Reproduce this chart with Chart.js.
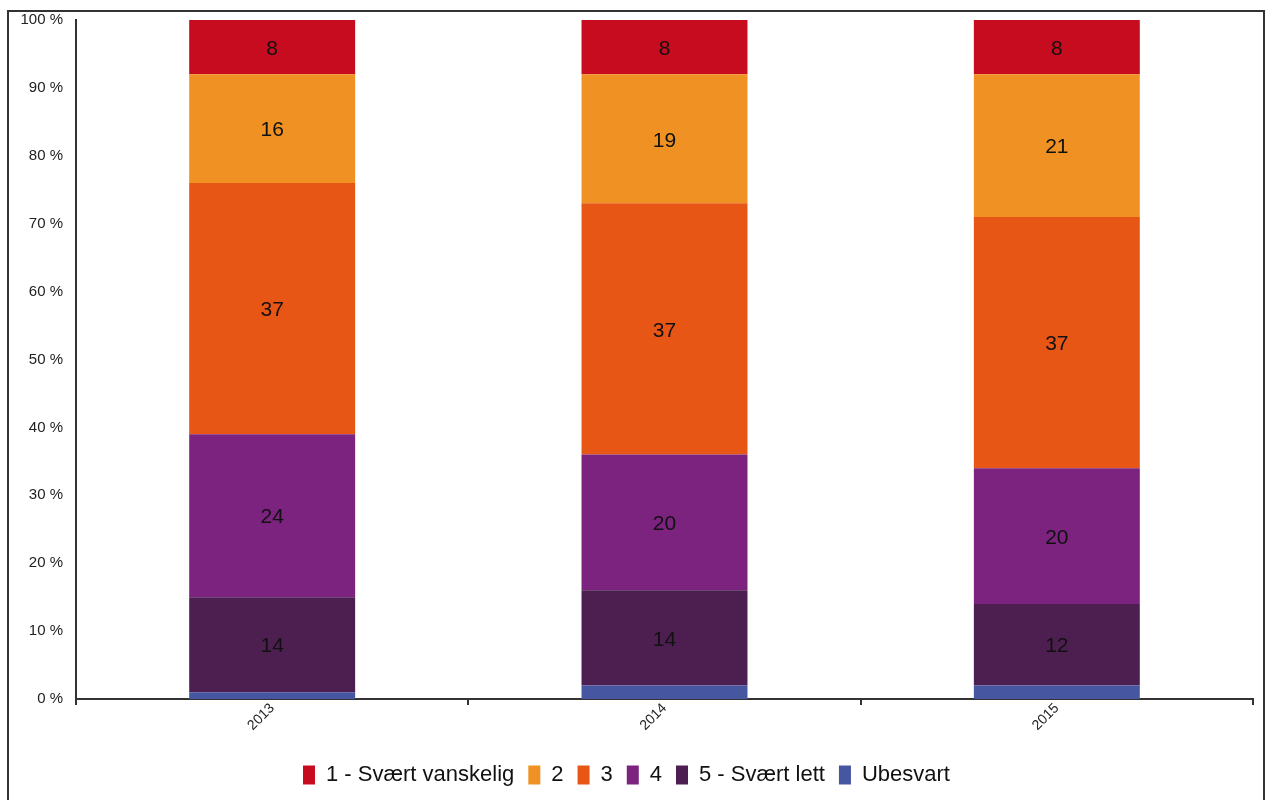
<!DOCTYPE html>
<html>
<head>
<meta charset="utf-8">
<script src="https://cdn.jsdelivr.net/npm/chart.js@4/dist/chart.umd.min.js"></script>
<style>
  html, body { margin: 0; padding: 0; background: #fff; }
  #wrap { position: relative; width: 1266px; height: 800px; overflow: hidden; }
  #frame { position: absolute; left: 7px; top: 10px; width: 1254px; height: 900px; border: 2px solid #333; }
  canvas { position: absolute; left: 0; top: 0; }
</style>
</head>
<body>
<div id="wrap">
  <div id="frame"></div>
  <canvas id="chart" width="1266" height="800"></canvas>
</div>
<script>
const years = ['2013', '2014', '2015'];
const seriesNames = ['Ubesvart', '5 - Svært lett', '4', '3', '2', '1 - Svært vanskelig'];
const ubesvart = [1, 2, 2];
const lett = [14, 14, 12];
const fire = [24, 20, 20];
const tre = [37, 37, 37];
const to = [16, 19, 21];
const vanskelig = [8, 8, 8];
const yTicks = [0, 10, 20, 30, 40, 50, 60, 70, 80, 90, 100];

const colors = ['#4656A0', '#4D1F50', '#7B237F', '#E85615', '#F09223', '#C70C1F'];
const values = [ubesvart, lett, fire, tre, to, vanskelig];
const fontFamily = '"Liberation Sans", Arial, sans-serif';

// value labels in the middle of each segment (Ubesvart has none)
const segmentLabels = {
  id: 'segmentLabels',
  afterDatasetsDraw(chart) {
    const ctx = chart.ctx;
    ctx.save();
    ctx.font = '21px ' + fontFamily;
    ctx.fillStyle = '#111';
    ctx.textAlign = 'center';
    ctx.textBaseline = 'middle';
    chart.data.datasets.forEach((ds, i) => {
      if (i === 0) return;
      const meta = chart.getDatasetMeta(i);
      meta.data.forEach((bar, j) => {
        ctx.fillText(ds.data[j], bar.x, (bar.y + bar.base) / 2 + 2);
      });
    });
    ctx.restore();
  }
};

new Chart(document.getElementById('chart').getContext('2d'), {
  type: 'bar',
  data: {
    labels: years,
    datasets: seriesNames.map((name, i) => ({
      label: name,
      data: values[i],
      backgroundColor: colors[i],
      borderWidth: 0,
      categoryPercentage: 1,
      barPercentage: 0.423
    }))
  },
  options: {
    responsive: false,
    animation: false,
    layout: { padding: { top: 20, right: 13, bottom: 4, left: 0 } },
    scales: {
      x: {
        stacked: true,
        grid: { display: true, drawOnChartArea: false, drawTicks: true, tickLength: 6, color: '#333', lineWidth: 2, offset: true },
        border: { display: true, color: '#333', width: 2 },
        ticks: { color: '#222', minRotation: 45, maxRotation: 45, padding: -5, font: { size: 14, family: fontFamily } },
        afterFit: (scale) => { scale.height = 51; }
      },
      y: {
        stacked: true,
        min: 0,
        max: 100,
        afterBuildTicks: (scale) => { scale.ticks = yTicks.map(v => ({ value: v })); },
        grid: { display: false },
        border: { display: true, color: '#333', width: 2 },
        ticks: { color: '#222', padding: 5, callback: (v) => v + ' %', font: { size: 15, family: fontFamily } },
        afterFit: (scale) => { scale.width = 76; }
      }
    },
    plugins: {
      legend: {
        position: 'bottom',
        reverse: true,
        labels: {
          color: '#111',
          boxWidth: 12,
          boxHeight: 19,
          padding: 14,
          font: { size: 22, family: fontFamily }
        }
      },
      tooltip: { enabled: false }
    }
  },
  plugins: [segmentLabels]
});
</script>
</body>
</html>
